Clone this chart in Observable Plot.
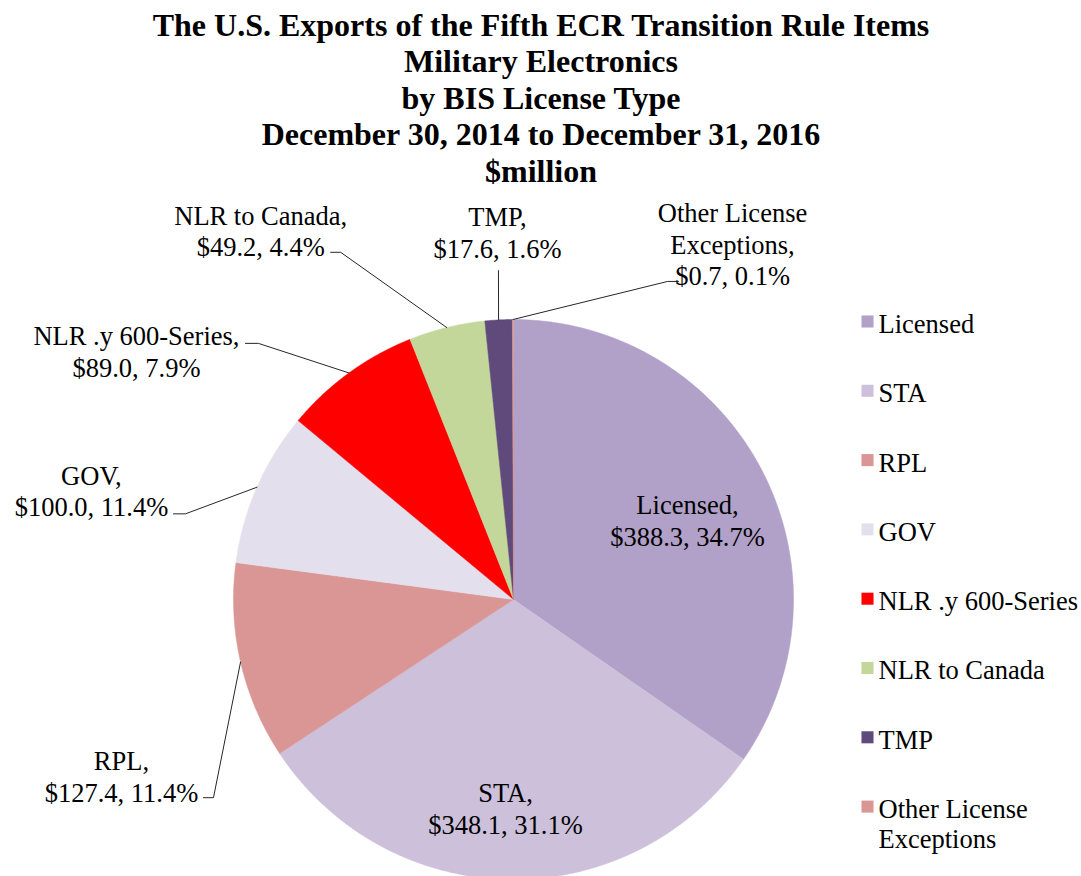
<!DOCTYPE html>
<html><head><meta charset="utf-8">
<script src="https://cdn.jsdelivr.net/npm/d3@7"></script>
<script src="https://cdn.jsdelivr.net/npm/@observablehq/plot@0.6"></script>
<style>body{margin:0;background:#fff;} #chart svg{display:block;background:#fff}</style>
</head><body><div id="chart"></div>
<script>
// ---- data ----
const categories = ["Licensed","STA","RPL","GOV","NLR .y 600-Series","NLR to Canada","TMP","Other License Exceptions"];
const values = [388.3, 348.1, 127.4, 100.0, 89.0, 49.2, 17.6, 0.7];
const valueLabels = ["$388.3","$348.1","$127.4","$100.0","$89.0","$49.2","$17.6","$0.7"];
const percentLabels = ["34.7%","31.1%","11.4%","11.4%","7.9%","4.4%","1.6%","0.1%"];
const sliceNames = ["Licensed","STA","RPL","GOV","NLR .y 600-Series","NLR to Canada","TMP","Other License\nExceptions"];
const legendLabels = ["Licensed","STA","RPL","GOV","NLR .y 600-Series","NLR to Canada","TMP","Other License\nExceptions"];
const colors = ["#B1A0C7","#CCC0DA","#DA9694","#E4DFEC","#FF0000","#C4D79B","#604A7B","#DA9694"];
const titleLines = [
  "The U.S. Exports of the Fifth ECR Transition Rule Items",
  "Military Electronics",
  "by BIS License Type",
  "December 30, 2014 to December 31, 2016",
  "$million"
];

// ---- layout (not data) ----
const W = 1081, H = 876, CX = 513, CY = 599, R = 280;
// label placement: polar angle (deg, clockwise from 12 o'clock) and distance in radii
const labelPolar = [
  {a: 65.3, k: 0.684}, {a: 182.2, k: 0.745}, {a: 245.8, k: 1.535}, {a: 284.5, k: 1.557},
  {a: 303.4, k: 1.613}, {a: 325.6, k: 1.598}, {a: 357.5, k: 1.314}, {a: 31.6, k: 1.493}
];
// leader attach point relative to label centre and elbow length
const leaderLayout = [null, null,
  {ax: 82, ay: 22, e: 10}, {ax: 82, ay: 23.5, e: 12}, {ax: 109, ay: -7.5, e: 13},
  {ax: 70, ay: 22, e: 10}, {ax: 1, ay: 38.5, e: 0}, {ax: -54, ay: 38, e: -11}];
const legendX = 354, legendTextX = 365, legendY0 = -278, legendStep = 69.3;
const FONT = "Liberation Serif";

// ---- build geometry from data ----
const arcs = d3.pie().sort(null).value(d => d)(values);
const slicePts = [];
arcs.forEach((a, i) => {
  const n = Math.max(2, Math.ceil((a.endAngle - a.startAngle) / 0.004));
  slicePts.push({cat: categories[i], x: 0, y: 0});
  for (let j = 0; j <= n; j++) {
    const t = a.startAngle + (a.endAngle - a.startAngle) * j / n;
    slicePts.push({cat: categories[i], x: R * Math.sin(t), y: -R * Math.cos(t)});
  }
  slicePts.push({cat: categories[i], x: 0, y: 0});
});

const labels = categories.map((c, i) => {
  const p = labelPolar[i], t = p.a * Math.PI / 180;
  return {
    text: sliceNames[i] + ",\n" + valueLabels[i] + ", " + percentLabels[i],
    x: p.k * R * Math.sin(t), y: -p.k * R * Math.cos(t)
  };
});

const leaderPts = [];
arcs.forEach((a, i) => {
  const L = leaderLayout[i];
  if (!L) return;
  const mid = (a.startAngle + a.endAngle) / 2;
  const lb = labels[i];
  const end = {x: lb.x + L.ax, y: lb.y + L.ay};
  leaderPts.push({id: i, x: R * Math.sin(mid), y: -R * Math.cos(mid)});
  leaderPts.push({id: i, x: end.x + L.e, y: end.y});
  leaderPts.push({id: i, x: end.x, y: end.y});
});

const legend = categories.map((c, i) => ({cat: c, label: legendLabels[i], y: legendY0 + i * legendStep}));

const chart = Plot.plot({
  width: W, height: H,
  margin: 0,
  x: {domain: [-CX, W - CX], range: [0, W], axis: null},
  y: {domain: [-CY, H - CY], range: [0, H], axis: null},
  color: {domain: categories, range: colors},
  style: {background: "#fff"},
  marks: [
    Plot.line(slicePts, {x: "x", y: "y", z: "cat", fill: "cat", stroke: "cat", strokeWidth: 0.5, curve: "linear"}),
    Plot.line(leaderPts, {x: "x", y: "y", z: "id", stroke: "#262626", strokeWidth: 1, curve: "linear"}),
    Plot.text(labels, {x: "x", y: "y", text: "text", fontSize: 26.5, lineHeight: 1.2, fontFamily: FONT, fill: "#000"}),
    Plot.dot(legend, {x: legendX, y: "y", symbol: "square", r: 6.8, fill: "cat", stroke: "none"}),
    Plot.text(legend, {x: legendTextX, y: "y", text: "label", textAnchor: "start", lineAnchor: "top", dy: -10, fontSize: 26.5, lineHeight: 1.14, fontFamily: FONT, fill: "#000"}),
    Plot.text([titleLines.join("\n")], {text: d => d, frameAnchor: "top", lineAnchor: "top", dy: 9, fontSize: 32, fontWeight: "bold", lineHeight: 1.145, fontFamily: FONT, fill: "#000"})
  ]
});
document.getElementById("chart").appendChild(chart);
</script>
</body></html>
